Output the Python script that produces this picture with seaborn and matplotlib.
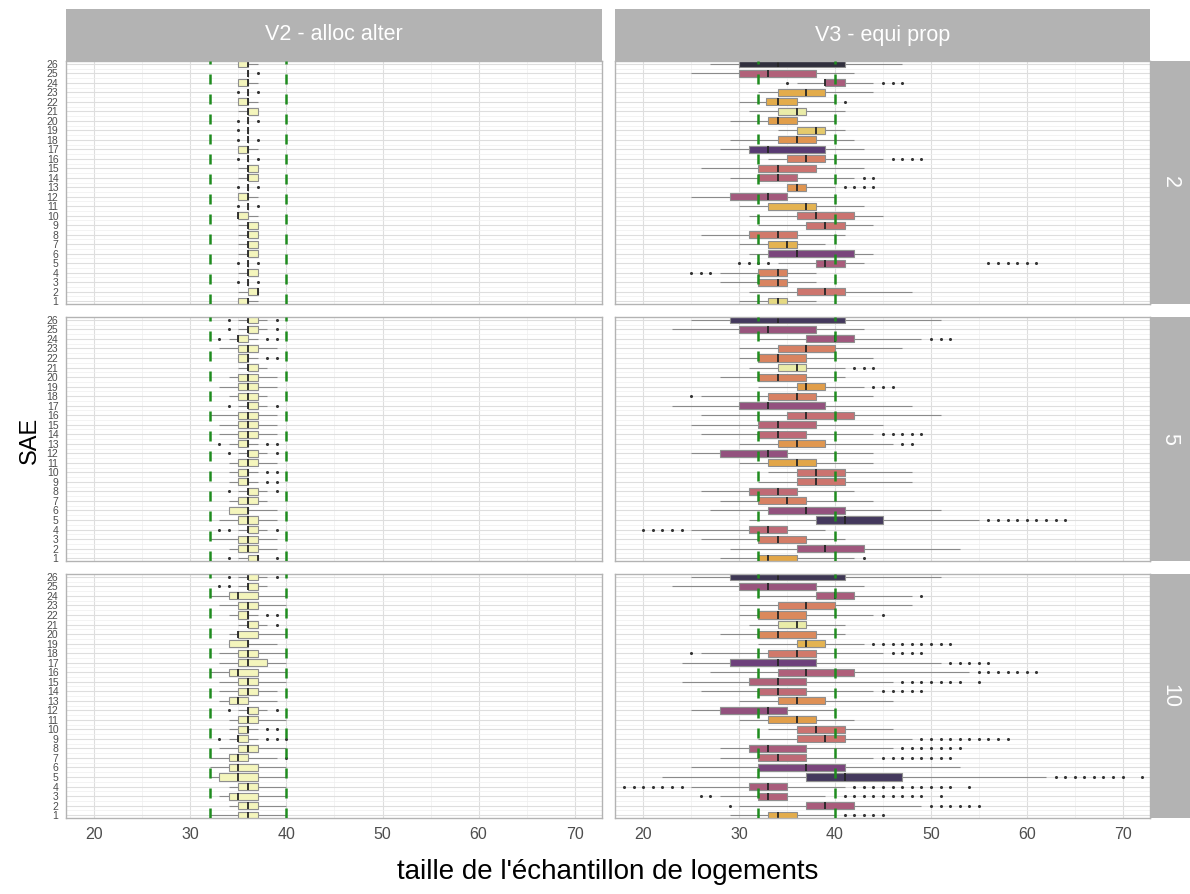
import numpy as np
import pandas as pd
import matplotlib
matplotlib.use("Agg")
import matplotlib.pyplot as plt
import seaborn as sns
from matplotlib import colors as mcolors

# ---------------------------------------------------------------- data
sae = list(range(1, 27))
x_ticks = [20, 30, 40, 50, 60, 70]
seuils = [32, 40]
variantes = ["V2 - alloc alter", "V3 - equi prop"]
lignes = ["2", "5", "10"]

# ---- V2 - alloc alter, row "2"  (SAE 1..26)
v2_2_bas = [35, 35, 36, 35, 36, 35, 35, 35, 35, 35, 36, 35, 36, 35, 35, 36, 35, 36, 36, 36, 35, 35, 36, 35, 36, 35]
v2_2_q1 = [35, 36, 36, 36, 36, 36, 36, 36, 36, 35, 36, 35, 36, 36, 36, 36, 35, 36, 36, 36, 36, 35, 36, 35, 36, 35]
v2_2_med = [36, 37, 36, 36, 36, 36, 36, 36, 36, 35, 36, 36, 36, 36, 36, 36, 36, 36, 36, 36, 36, 36, 36, 36, 36, 36]
v2_2_q3 = [36, 37, 36, 37, 36, 37, 37, 37, 37, 36, 36, 36, 36, 37, 37, 36, 36, 36, 36, 36, 37, 36, 36, 36, 36, 36]
v2_2_haut = [37, 37, 36, 37, 36, 37, 37, 37, 37, 37, 36, 37, 36, 37, 37, 36, 37, 36, 36, 36, 37, 37, 36, 37, 36, 37]
v2_2_ext = {3: [35, 37], 5: [35, 37], 11: [35, 37], 13: [35, 37], 16: [35, 37],
            18: [35, 37], 19: [35], 20: [35, 37], 23: [35, 37], 25: [37]}

# ---- V2 - alloc alter, row "5"
v2_5_bas = [35, 34, 32, 35, 33, 34, 34, 35, 34, 34, 34, 35, 34, 33, 33, 32, 35, 34, 33, 34, 35, 35, 33, 34, 35, 35]
v2_5_q1 = [36, 35, 35, 36, 35, 34, 35, 36, 35, 35, 35, 36, 35, 35, 35, 35, 36, 35, 35, 35, 36, 35, 35, 35, 36, 36]
v2_5_med = [37, 36, 36, 36, 36, 36, 36, 36, 36, 36, 36, 36, 36, 36, 36, 36, 36, 36, 36, 36, 36, 36, 36, 35, 36, 36]
v2_5_q3 = [37, 37, 37, 37, 37, 36, 37, 37, 36, 36, 37, 37, 36, 37, 37, 37, 37, 37, 37, 37, 37, 36, 37, 36, 37, 37]
v2_5_haut = [37, 39, 39, 38, 39, 39, 38, 38, 37, 37, 39, 38, 37, 39, 39, 39, 38, 38, 39, 39, 38, 37, 39, 37, 38, 38]
v2_5_ext = {1: [34, 39], 4: [33, 34, 39], 8: [34, 39], 9: [38, 39], 10: [38, 39], 12: [34, 39],
            13: [33, 38, 39], 17: [34, 39], 22: [38, 39], 24: [33, 38, 39], 25: [34, 39], 26: [34, 39]}

# ---- V2 - alloc alter, row "10"
v2_10_bas = [32, 34, 33, 34, 32, 32, 32, 33, 34, 34, 34, 35, 33, 33, 33, 32, 33, 33, 34, 34, 35, 34, 33, 32, 35, 35]
v2_10_q1 = [35, 35, 34, 35, 33, 34, 34, 35, 35, 35, 35, 36, 34, 35, 35, 34, 35, 35, 34, 35, 36, 35, 35, 34, 36, 36]
v2_10_med = [36, 36, 35, 36, 35, 35, 35, 36, 35, 36, 36, 36, 35, 36, 36, 35, 36, 36, 36, 35, 36, 36, 36, 35, 36, 36]
v2_10_q3 = [37, 37, 37, 37, 37, 37, 36, 37, 36, 36, 37, 37, 36, 37, 37, 37, 38, 37, 36, 37, 37, 36, 37, 37, 37, 37]
v2_10_haut = [40, 40, 40, 40, 40, 40, 39, 40, 37, 37, 40, 38, 39, 39, 40, 40, 40, 40, 39, 40, 38, 37, 40, 40, 38, 38]
v2_10_ext = {7: [40], 9: [33, 38, 39, 40], 10: [38, 39], 12: [34, 39], 21: [39],
             22: [38, 39], 25: [33, 34], 26: [34, 39]}

# dispersion level (fill colour) of the V2 boxes
v2_disp = 0.0

# ---- V3 - equi prop, row "2"
v3_2_bas = [30, 31, 28, 28, 34, 31, 30, 26, 32, 31, 30, 25, 35, 29, 26, 33, 28, 29, 34, 29, 31, 30, 32, 36, 25, 27]
v3_2_q1 = [33, 36, 32, 32, 38, 33, 33, 31, 37, 36, 33, 29, 35, 32, 32, 35, 31, 34, 36, 33, 34, 32.75, 34, 39, 30, 30]
v3_2_med = [34, 39, 34, 34, 39, 36, 35, 34, 39, 38, 37, 33, 36, 34, 34, 37, 33, 36, 38, 34, 36, 34, 37, 39, 33, 34]
v3_2_q3 = [35, 41, 35, 35, 41, 42, 36, 36, 41, 42, 38, 35, 37, 36, 38, 39, 39, 38, 39, 36, 37, 36, 39, 41, 38, 41]
v3_2_haut = [38, 48, 38, 38, 43, 44, 39, 41, 44, 45, 43, 40, 40, 42, 43, 45, 43, 42, 41, 40, 41, 40, 44, 44, 42, 47]
v3_2_ext = {4: [25, 26, 27], 5: [30, 31, 32, 33, 56, 57, 58, 59, 60, 61], 13: [41, 42, 43, 44],
            14: [43, 44], 16: [46, 47, 48, 49], 22: [41], 24: [35, 45, 46, 47]}
v3_2_disp = [0.08, 0.42, 0.35, 0.35, 0.55, 0.70, 0.18, 0.40, 0.43, 0.43, 0.18, 0.57, 0.28,
             0.50, 0.43, 0.37, 0.82, 0.28, 0.12, 0.25, 0.03, 0.20, 0.20, 0.55, 0.52, 0.95]

# ---- V3 - equi prop, row "5"
v3_5_bas = [28, 29, 26, 25, 31, 27, 28, 26, 32, 33, 30, 25, 30, 26, 25, 26, 23, 26, 32, 28, 31, 30, 30, 32, 23, 25]
v3_5_q1 = [32, 36, 32, 31, 38, 33, 32, 31, 36, 36, 33, 28, 34, 32, 32, 35, 30, 33, 36, 32, 34, 32, 34, 37, 30, 29]
v3_5_med = [33, 39, 34, 33, 41, 37, 35, 34, 38, 38, 36, 33, 36, 34, 34, 37, 33, 36, 37, 34, 36, 34, 37, 40, 33, 34]
v3_5_q3 = [36, 43, 37, 35, 45, 41, 37, 36, 41, 41, 38, 35, 39, 37, 38, 42, 39, 38, 39, 37, 37, 37, 40, 42, 38, 41]
v3_5_haut = [42, 53, 41, 39, 55, 51, 44, 42, 48, 48, 44, 44, 46, 44, 45, 51, 48, 44, 43, 41, 41, 44, 47, 49, 43, 51]
v3_5_ext = {1: [43], 4: [20, 21, 22, 23, 24], 5: [56, 57, 58, 59, 60, 61, 62, 63, 64], 13: [47, 48],
            14: [45, 46, 47, 48, 49], 18: [25], 19: [44, 45, 46], 21: [42, 43, 44], 24: [50, 51, 52]}
v3_5_disp = [0.22, 0.58, 0.38, 0.48, 0.88, 0.62, 0.36, 0.47, 0.42, 0.43, 0.22, 0.62, 0.27,
             0.48, 0.50, 0.45, 0.62, 0.36, 0.25, 0.35, 0.03, 0.35, 0.37, 0.58, 0.60, 0.88]

# ---- V3 - equi prop, row "10"
v3_10_bas = [29, 30, 28, 25, 22, 25, 28, 28, 32, 33, 30, 25, 30, 26, 24, 27, 24, 26, 32, 28, 31, 30, 30, 32, 23, 25]
v3_10_q1 = [33, 37, 32, 31, 37, 32, 32, 31, 36, 36, 33, 28, 34, 32, 31, 34, 29, 33, 36, 32, 34, 32, 34, 38, 30, 29]
v3_10_med = [34, 39, 33, 33, 41, 37, 34, 33, 39, 38, 36, 33, 36, 34, 34, 37, 34, 36, 37, 34, 36, 34, 37, 40, 33, 34]
v3_10_q3 = [36, 42, 35, 35, 47, 41, 37, 37, 41, 41, 38, 35, 39, 37, 37, 42, 38, 38, 39, 38, 37, 37, 40, 42, 38, 41]
v3_10_haut = [40, 49, 39, 41, 62, 53, 44, 46, 48, 46, 42, 40, 46, 44, 46, 54, 51, 45, 43, 41, 41, 44, 48, 48, 43, 51]
v3_10_ext = {
    1: [41, 42, 43, 44, 45],
    2: [29, 50, 51, 52, 53, 54, 55],
    3: [26, 27, 41, 42, 43, 44, 45, 46, 47, 48, 49, 51],
    4: [18, 19, 20, 21, 22, 23, 24, 42, 43, 44, 45, 46, 47, 48, 49, 50, 51, 52, 54],
    5: [63, 64, 65, 66, 67, 68, 69, 70, 72],
    7: [45, 46, 47, 48, 49, 50, 51, 52],
    8: [47, 48, 49, 50, 51, 52, 53],
    9: [49, 50, 51, 52, 53, 54, 55, 56, 57, 58],
    14: [45, 46, 47, 48, 49],
    15: [47, 48, 49, 50, 51, 52, 53, 55],
    16: [55, 56, 57, 58, 59, 60, 61],
    17: [52, 53, 54, 55, 56],
    18: [25, 46, 47, 48, 49],
    19: [44, 45, 46, 47, 48, 49, 50, 51, 52],
    22: [45],
    24: [49],
}
v3_10_disp = [0.20, 0.55, 0.52, 0.55, 0.88, 0.70, 0.48, 0.55, 0.43, 0.43, 0.25, 0.62, 0.30,
              0.47, 0.52, 0.53, 0.75, 0.40, 0.18, 0.33, 0.03, 0.33, 0.36, 0.55, 0.60, 0.90]

# ---------------------------------------------------------------- style
sns.set_theme(style="white")
plt.rcParams["font.family"] = ["Liberation Sans", "DejaVu Sans"]

W, H = 1190, 894
fig = plt.figure(figsize=(W / 100, H / 100), dpi=100)
fig.patch.set_facecolor("white")


def add_px(x0, y0, x1, y1):
    return fig.add_axes([x0 / W, 1 - y1 / H, (x1 - x0) / W, (y1 - y0) / H])


cmap = plt.get_cmap("inferno")
ALPHA = 0.84


def couleur(level):
    c = np.array(mcolors.to_rgb(cmap(1 - level)))
    return tuple(ALPHA * c + (1 - ALPHA))


def box_frame(bas, q1, med, q3, haut):
    rows = []
    for s, vals in zip(sae, zip(bas, q1, med, q3, haut)):
        for v in vals:
            rows.append((str(s), v))
    return pd.DataFrame(rows, columns=["SAE", "valeur"])


def ext_frame(ext):
    rows = [(str(s), v) for s, vals in ext.items() for v in vals]
    return pd.DataFrame(rows, columns=["SAE", "valeur"])


panels = {
    (0, 0): (v2_2_bas, v2_2_q1, v2_2_med, v2_2_q3, v2_2_haut, v2_2_ext, [v2_disp] * len(sae)),
    (1, 0): (v2_5_bas, v2_5_q1, v2_5_med, v2_5_q3, v2_5_haut, v2_5_ext, [v2_disp] * len(sae)),
    (2, 0): (v2_10_bas, v2_10_q1, v2_10_med, v2_10_q3, v2_10_haut, v2_10_ext, [v2_disp] * len(sae)),
    (0, 1): (v3_2_bas, v3_2_q1, v3_2_med, v3_2_q3, v3_2_haut, v3_2_ext, v3_2_disp),
    (1, 1): (v3_5_bas, v3_5_q1, v3_5_med, v3_5_q3, v3_5_haut, v3_5_ext, v3_5_disp),
    (2, 1): (v3_10_bas, v3_10_q1, v3_10_med, v3_10_q3, v3_10_haut, v3_10_ext, v3_10_disp),
}

cols_px = [(66, 602), (615, 1150)]
rows_px = [(61, 304), (317, 561), (574, 818)]
order = [str(s) for s in sae[::-1]]
STRIP = "#b3b3b3"
BORDER = "#b3b3b3"
TICKTXT = "#4d4d4d"

for (r, c), (bas, q1, med, q3, haut, ext, disp) in panels.items():
    x0, x1 = cols_px[c]
    y0, y1 = rows_px[r]
    ax = add_px(x0, y0, x1, y1)
    ax.set_facecolor("white")
    ax.set_axisbelow(True)

    df = box_frame(bas, q1, med, q3, haut)
    pal = {str(s): couleur(d) for s, d in zip(sae, disp)}
    sns.boxplot(
        data=df, x="valeur", y="SAE", hue="SAE", order=order, hue_order=order,
        palette=pal, dodge=False, legend=False, whis=(0, 100), width=0.74,
        linewidth=0.8, showcaps=False, showfliers=False,
        boxprops=dict(edgecolor="#8f8f8f", linewidth=0.8),
        whiskerprops=dict(color="#8a8a8a", linewidth=0.8),
        medianprops=dict(color="#262626", linewidth=1.3),
        ax=ax,
    )
    odf = ext_frame(ext)
    sns.stripplot(data=odf, x="valeur", y="SAE", order=order, jitter=False,
                  color="#333333", size=2.2, linewidth=0, ax=ax, zorder=3)

    for s in seuils:
        ax.axvline(s, color="#1f8c1f", lw=1.8, dashes=(4, 4), zorder=5)

    ax.set_xlim(17.05, 72.85)
    ax.set_ylim(25.3, -0.3)
    ax.set_xticks(x_ticks)
    ax.set_xticks([25, 35, 45, 55, 65], minor=True)
    ax.set_yticks(range(len(order)))
    ax.set_yticks(np.arange(0.5, len(order) - 1, 1.0), minor=True)
    ax.grid(which="major", color="#dedede", lw=0.8)
    ax.grid(which="minor", color="#efefef", lw=0.5)
    ax.set_xlabel("")
    ax.set_ylabel("")
    for sp in ax.spines.values():
        sp.set_color(BORDER)
        sp.set_linewidth(1.0)
    ax.tick_params(which="minor", length=0)
    ax.tick_params(which="major", color=BORDER, length=3.5, width=0.8)

    if c == 0:
        ax.set_yticklabels(order)
        ax.tick_params(axis="y", labelsize=7.5, labelcolor=TICKTXT, pad=2)
    else:
        ax.tick_params(axis="y", left=False, labelleft=False)
    if r == 2:
        ax.set_xticklabels([str(t) for t in x_ticks])
        ax.tick_params(axis="x", labelsize=11.5, labelcolor=TICKTXT, pad=3)
    else:
        ax.tick_params(axis="x", bottom=False, labelbottom=False)

# top strips
for c, lab in enumerate(variantes):
    x0, x1 = cols_px[c]
    sax = add_px(x0, 9, x1, 61)
    sax.set_facecolor(STRIP)
    sax.set_xticks([])
    sax.set_yticks([])
    for sp in sax.spines.values():
        sp.set_visible(False)
    sax.text(0.5, 0.5, lab, color="white", fontsize=15.5, ha="center", va="center",
             transform=sax.transAxes)

# right strips
for r, lab in enumerate(lignes):
    y0, y1 = rows_px[r]
    sax = add_px(1150, y0, 1190, y1)
    sax.set_facecolor(STRIP)
    sax.set_xticks([])
    sax.set_yticks([])
    for sp in sax.spines.values():
        sp.set_visible(False)
    sax.text(0.5, 0.5, lab, color="white", fontsize=15.5, ha="center", va="center",
             rotation=-90, transform=sax.transAxes)

fig.text(608 / W, 1 - 872 / H, "taille de l'échantillon de logements", ha="center",
         va="center", fontsize=20, color="black")
fig.text(30 / W, 1 - 440 / H, "SAE", ha="center", va="center", rotation=90,
         fontsize=17, color="black")

fig.savefig("out.png", dpi=100)
